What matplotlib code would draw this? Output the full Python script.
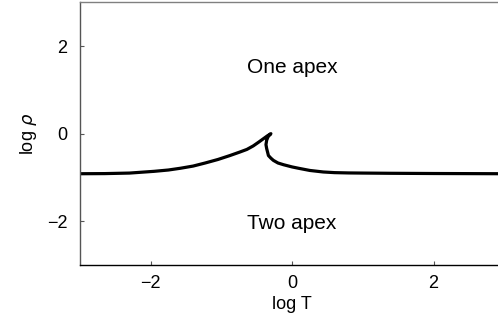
"""Phase boundary between one-apex and two-apex regimes in the (log T, log rho) plane."""
import matplotlib
matplotlib.use("Agg")
import matplotlib.pyplot as plt

plt.rcParams["font.family"] = ["Liberation Sans", "DejaVu Sans"]

# lower branch: from the left edge up to the cusp
left_x = [-3.0, -2.65, -2.3, -1.95, -1.75, -1.58, -1.4, -1.23, -1.05, -0.88, -0.74, -0.64,
          -0.55, -0.47, -0.41, -0.35, -0.30]
left_y = [-0.915, -0.912, -0.90, -0.86, -0.83, -0.79, -0.74, -0.67, -0.59, -0.50, -0.42, -0.36,
          -0.28, -0.19, -0.12, -0.05, 0.0]

# branch leaving the cusp and flattening out to the right
right_x = [-0.30, -0.34, -0.36, -0.37, -0.36, -0.335, -0.30, -0.265, -0.20, -0.12, 0.0, 0.09,
           0.25, 0.44, 0.6, 0.8, 1.0, 1.39, 2.0, 3.0]
right_y = [0.0, -0.07, -0.15, -0.25, -0.34, -0.50, -0.56, -0.61, -0.67, -0.71, -0.76, -0.79,
           -0.84, -0.875, -0.89, -0.897, -0.90, -0.905, -0.91, -0.915]

x_ticks = [-2, 0, 2]
y_ticks = [-2, 0, 2]

fig = plt.figure(figsize=(4.98, 3.26), dpi=100)
ax = fig.add_axes((0.1606, 0.187, 0.852, 0.806))

ax.plot(left_x + right_x[1:], left_y + right_y[1:], color="black", lw=2.3,
        solid_capstyle="butt", solid_joinstyle="round")

ax.text(0.0, 1.5, "One apex", ha="center", va="center", fontsize=15)
ax.text(0.0, -2.05, "Two apex", ha="center", va="center", fontsize=15)

ax.set_xlim(-3, 3)
ax.set_ylim(-3, 3)
ax.set_xticks(x_ticks)
ax.set_yticks(y_ticks)
ax.set_xticklabels(["\u22122", "0", "2"])
ax.set_yticklabels(["\u22122", "0", "2"])
ax.tick_params(direction="in", length=3, width=0.8, labelsize=13, color="#555")
ax.tick_params(axis="y", pad=9)
ax.tick_params(axis="x", pad=7)
ax.set_xlabel("log T", fontsize=13, labelpad=3)
ax.set_ylabel(r"log $\rho$", fontsize=13, labelpad=6)

ax.spines["top"].set_color("#808080")
ax.spines["left"].set_color("#555555")
ax.spines["bottom"].set_color("black")
for s in ax.spines.values():
    s.set_linewidth(1.0)

fig.savefig("out.png", dpi=100)
